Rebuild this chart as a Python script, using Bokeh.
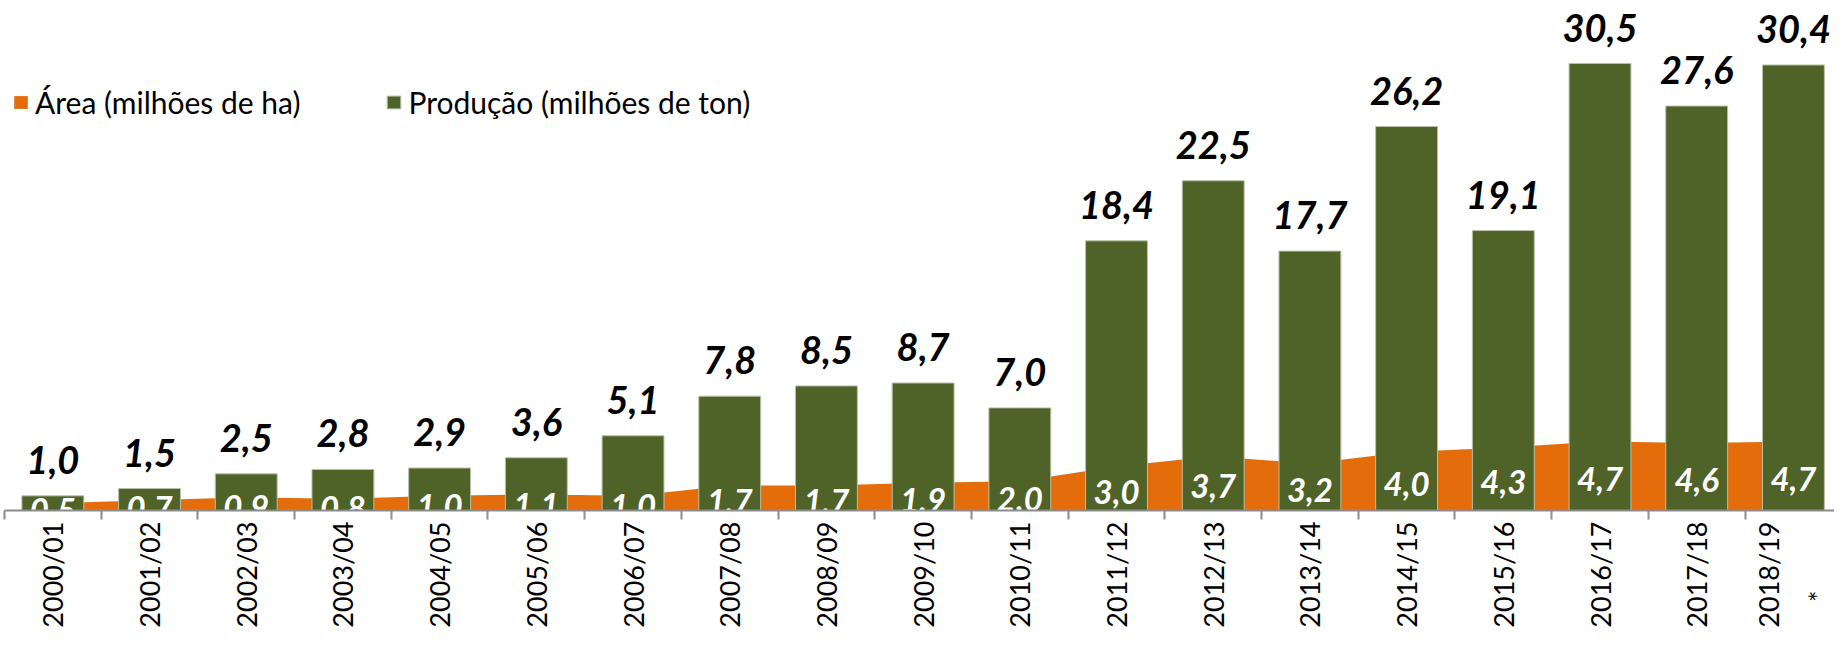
import numpy as np
from bokeh.plotting import figure
from bokeh.models import ColumnDataSource, FixedTicker, Range1d, Legend, LegendItem
from bokeh.core.properties import value
from bokeh.embed import file_html
from bokeh.resources import INLINE

categories = ["2000/01", "2001/02", "2002/03", "2003/04", "2004/05", "2005/06",
              "2006/07", "2007/08", "2008/09", "2009/10", "2010/11", "2011/12",
              "2012/13", "2013/14", "2014/15", "2015/16", "2016/17", "2017/18",
              "2018/19"]
area = [0.5, 0.7, 0.9, 0.8, 1.0, 1.1, 1.0, 1.7, 1.7, 1.9, 2.0, 3.0,
        3.7, 3.2, 4.0, 4.3, 4.7, 4.6, 4.7]
producao = [1.0, 1.5, 2.5, 2.8, 2.9, 3.6, 5.1, 7.8, 8.5, 8.7, 7.0, 18.4,
            22.5, 17.7, 26.2, 19.1, 30.5, 27.6, 30.4]
footnote_marker = "*"
footnote_index = 18

ORANGE = "#E46C0A"
GREEN = "#4F6228"
FONT = "Lato"

def fmt(v):
    return f"{v:.1f}".replace(".", ",")

xs = list(range(len(categories)))
tick_labels = list(categories)
# second line of the last label, padded so the marker sits mid-label
tick_labels[footnote_index] = (tick_labels[footnote_index] + "\n" + footnote_marker
                               + "\u00a0" * 10)

src = ColumnDataSource(dict(
    x=xs,
    area=area,
    prod=producao,
    area_mid=[a / 2 for a in area],
    area_lbl=[fmt(a) for a in area],
    prod_lbl=[fmt(v) for v in producao],
))

p = figure(width=1834, height=630, output_backend="svg", toolbar_location=None,
           x_range=Range1d(-0.5, 18.425), y_range=Range1d(0, 34.8),
           y_axis_location=None,
           min_border_left=4, min_border_right=0, min_border_top=0,
           min_border_bottom=100)
p.outline_line_color = None
p.grid.visible = False
p.background_fill_color = "white"
p.border_fill_color = "white"

area_r = p.varea(x="x", y1=0, y2="area", source=src, fill_color=ORANGE)
bar_r = p.vbar(x="x", top="prod", width=0.64, source=src, fill_color=GREEN,
               line_color="#B9C0A6", line_width=1)

p.text(x="x", y="prod", text="prod_lbl", source=src, text_align="center",
       text_baseline="alphabetic", y_offset=-36, text_font=value(FONT),
       text_font_style="bold italic", text_font_size="38px", text_color="black")
p.text(x="x", y="area_mid", text="area_lbl", source=src, text_align="center",
       text_baseline="middle", y_offset=3, text_font=value(FONT),
       text_font_style="bold italic", text_font_size="33px", text_color="white")

ax = p.xaxis[0]
ax.ticker = FixedTicker(ticks=xs, minor_ticks=[i - 0.5 for i in range(len(xs) + 1)])
ax.major_label_overrides = {i: t for i, t in enumerate(tick_labels)}
ax.major_label_orientation = np.pi / 2
ax.major_label_text_font = FONT
ax.major_label_text_font_size = "27px"
ax.major_label_text_color = "black"
ax.major_label_text_line_height = 1.5
ax.major_label_standoff = 2
ax.major_tick_out = 0
ax.major_tick_in = 0
ax.minor_tick_out = 9
ax.minor_tick_in = 0
ax.minor_tick_line_color = "#8C8C8C"
ax.minor_tick_line_width = 2
ax.axis_line_color = "#8C8C8C"
ax.axis_line_width = 2

legend = Legend(items=[LegendItem(label="Área (milhões de ha)", renderers=[area_r]),
                       LegendItem(label="Produção (milhões de ton)", renderers=[bar_r])],
                location=(8, 390), orientation="horizontal", padding=0, margin=0,
                spacing=85, glyph_width=17, glyph_height=16, label_standoff=6,
                label_text_font=FONT, label_text_font_size="30px",
                label_text_color="black", border_line_color=None,
                background_fill_alpha=0)
p.add_layout(legend)

open("out.html", "w").write(file_html(p, INLINE))
